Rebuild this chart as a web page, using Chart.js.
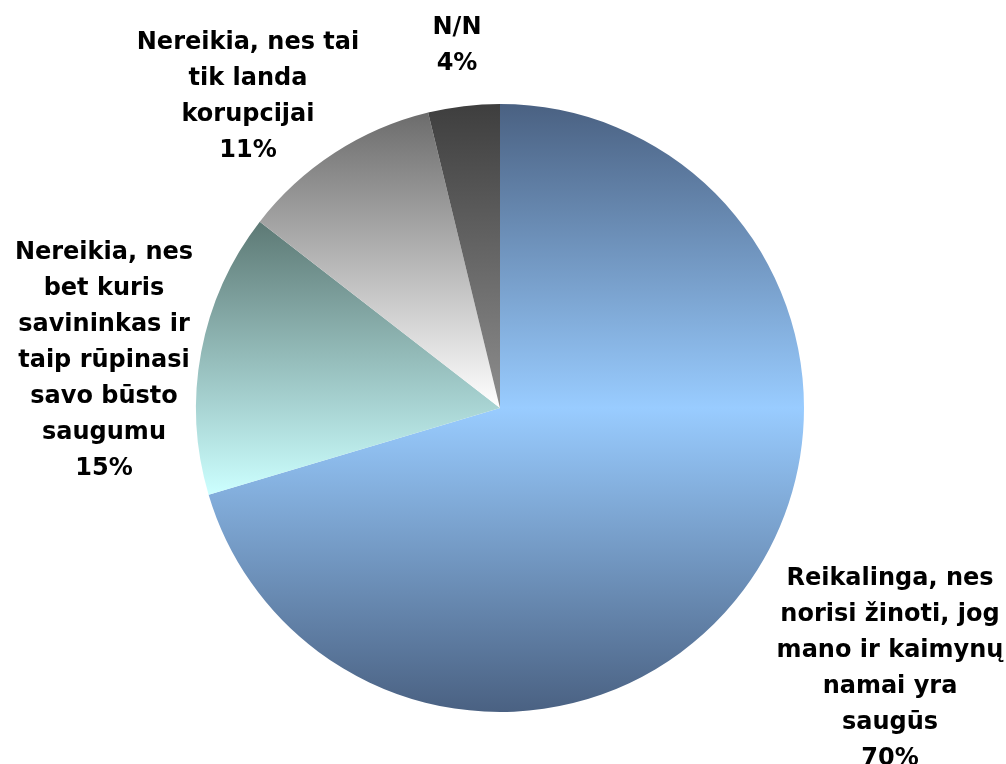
<!DOCTYPE html>
<html>
<head>
<meta charset="utf-8">
<script src="https://cdn.jsdelivr.net/npm/chart.js@4/dist/chart.umd.min.js"></script>
<style>
html,body{margin:0;padding:0;background:#fff;}
#wrap{width:1006px;height:764px;}
</style>
</head>
<body>
<div id="wrap"><canvas id="c" width="1006" height="764"></canvas></div>
<script>
// ---- data ----
const categories = [
  ["Reikalinga, nes", "norisi žinoti, jog", "mano ir kaimynų", "namai yra", "saugūs"],
  ["Nereikia, nes", "bet kuris", "savininkas ir", "taip rūpinasi", "savo būsto", "saugumu"],
  ["Nereikia, nes tai", "tik landa", "korupcijai"],
  ["N/N"]
];
const values = [70.4, 15.1, 10.7, 3.8];
const percentLabels = ["70%", "15%", "11%", "4%"];

// ---- styles ----
const gradientStops = [
  [[0, "#4a6182"], [0.5, "#99ccff"], [1, "#4a6182"]],
  [[0, "#5d7975"], [1, "#ccffff"]],
  [[0, "#6c6c6c"], [1, "#ffffff"]],
  [[0, "#3e3e3e"], [1, "#8e8e8e"]]
];
const fallback = ["#99ccff", "#99dddd", "#bbbbbb", "#666666"];
const labelCenters = [ [890, 669], [104, 361], [248, 97], [457, 46] ];
const lineH = 36;

function sliceGradient(ctx) {
  const chart = ctx.chart;
  const area = chart.chartArea;
  const i = ctx.dataIndex;
  if (!area) return fallback[i];
  const cy = (area.top + area.bottom) / 2;
  const r = Math.min(area.right - area.left, area.bottom - area.top) / 2;
  const data = ctx.dataset.data;
  const total = data.reduce((a, b) => a + b, 0);
  let start = 0;
  for (let k = 0; k < i; k++) start += data[k] / total * 360;
  const end = start + data[i] / total * 360;
  const ys = [cy];
  ys.push(cy - r * Math.cos(start * Math.PI / 180));
  ys.push(cy - r * Math.cos(end * Math.PI / 180));
  if (start <= 0.001 || end >= 359.999) ys.push(cy - r);
  if (start <= 180 && end >= 180) ys.push(cy + r);
  const y0 = Math.min(...ys), y1 = Math.max(...ys);
  const g = chart.ctx.createLinearGradient(0, y0, 0, y1);
  gradientStops[i].forEach(s => g.addColorStop(s[0], s[1]));
  return g;
}

const labelPlugin = {
  id: 'outLabels',
  afterDatasetsDraw(chart) {
    const c = chart.ctx;
    c.save();
    c.font = "bold 24px 'DejaVu Sans', Verdana, sans-serif";
    c.fillStyle = "#000";
    c.textAlign = "center";
    c.textBaseline = "middle";
    categories.forEach((lines, i) => {
      const all = lines.concat([percentLabels[i]]);
      const [x, yc] = labelCenters[i];
      const top = yc - (all.length - 1) * lineH / 2;
      all.forEach((t, j) => c.fillText(t, x, top + j * lineH));
    });
    c.restore();
  }
};

new Chart(document.getElementById('c'), {
  type: 'pie',
  data: {
    labels: categories.map(l => l.join(' ')),
    datasets: [{
      data: values,
      backgroundColor: sliceGradient,
      borderWidth: 0
    }]
  },
  options: {
    responsive: false,
    animation: false,
    layout: { padding: { top: 104, bottom: 52, left: 96, right: 102 } },
    plugins: { legend: { display: false }, tooltip: { enabled: false } }
  },
  plugins: [labelPlugin]
});
</script>
</body>
</html>
